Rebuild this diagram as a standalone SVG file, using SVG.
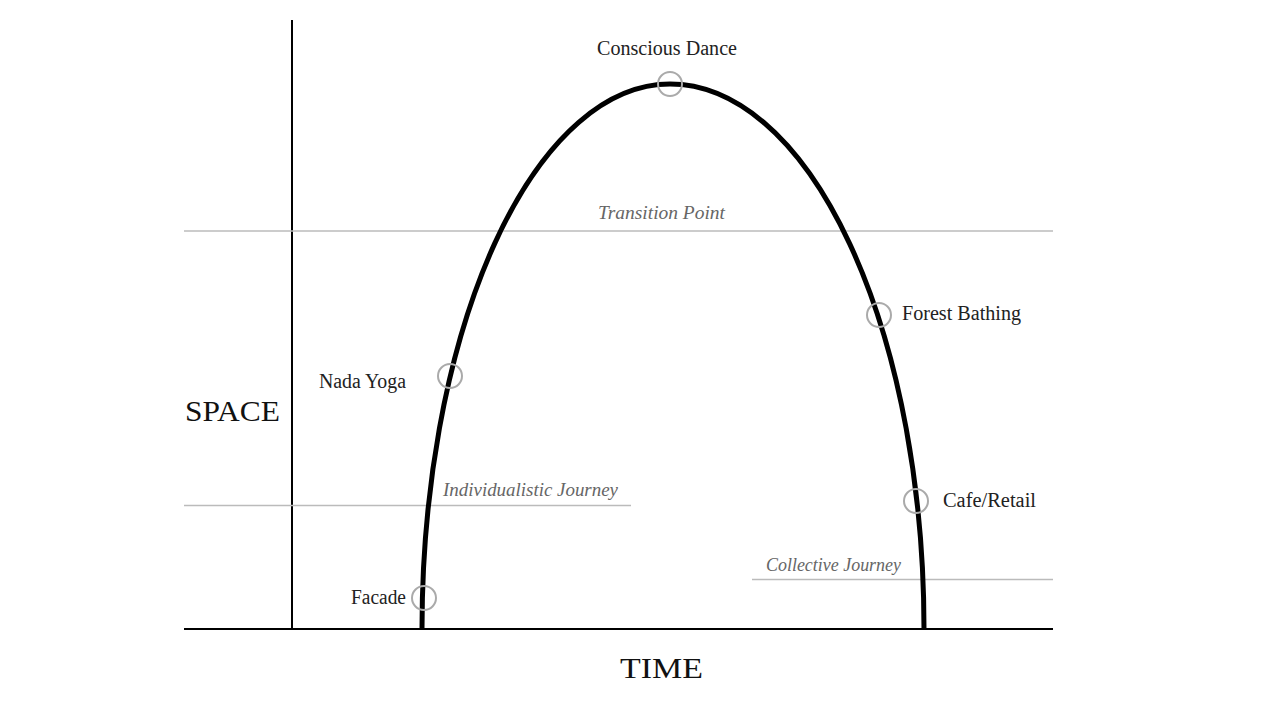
<svg xmlns="http://www.w3.org/2000/svg" width="1280" height="720" viewBox="0 0 1280 720">
<style>
.axis{stroke:#000;stroke-width:2;fill:none}
.guide{stroke:#bbb;stroke-width:1.3;fill:none}
.curve{stroke:#000;stroke-width:5;fill:none}
.mark{stroke:#aaa;stroke-width:2;fill:none}
.lbl{font-family:"Liberation Serif",serif;font-size:20px;fill:#222}
.it{font-family:"Liberation Serif",serif;font-size:19px;font-style:italic;fill:#666}
.ax{font-family:"Liberation Serif",serif;font-size:30px;fill:#111}
</style>
<rect width="1280" height="720" fill="#fff"/>
<g id="connectors">
<line class="axis" x1="292" y1="20" x2="292" y2="629"/>
<line class="axis" x1="184" y1="629" x2="1053" y2="629"/>
<line class="guide" x1="184" y1="231" x2="1053" y2="231"/>
<line class="guide" x1="184" y1="505.5" x2="631" y2="505.5"/>
<line class="guide" x1="752" y1="579.5" x2="1053" y2="579.5"/>
<path class="curve" d="M 422 629 A 248 545 0 0 1 670 84 A 254 545 0 0 1 924 629"/>
</g>
<g id="axis-space"><text class="ax" x="185" y="421" textLength="95" lengthAdjust="spacingAndGlyphs">SPACE</text></g>
<g id="axis-time"><text class="ax" x="620" y="678" textLength="83" lengthAdjust="spacingAndGlyphs">TIME</text></g>
<g id="transition-point"><text class="it" x="598" y="219" textLength="127" lengthAdjust="spacingAndGlyphs">Transition Point</text></g>
<g id="individualistic-journey"><text class="it" x="443" y="496" textLength="175" lengthAdjust="spacingAndGlyphs">Individualistic Journey</text></g>
<g id="collective-journey"><text class="it" x="766" y="571" textLength="135" lengthAdjust="spacingAndGlyphs">Collective Journey</text></g>
<g id="conscious-dance"><circle class="mark" cx="670" cy="84" r="12"/><text class="lbl" x="597" y="55" textLength="140" lengthAdjust="spacingAndGlyphs">Conscious Dance</text></g>
<g id="nada-yoga"><circle class="mark" cx="450" cy="376" r="12"/><text class="lbl" x="319" y="388" textLength="87" lengthAdjust="spacingAndGlyphs">Nada Yoga</text></g>
<g id="facade"><circle class="mark" cx="424" cy="598" r="12"/><text class="lbl" x="351" y="604" textLength="55" lengthAdjust="spacingAndGlyphs">Facade</text></g>
<g id="forest-bathing"><circle class="mark" cx="879" cy="315" r="12"/><text class="lbl" x="902" y="320" textLength="119" lengthAdjust="spacingAndGlyphs">Forest Bathing</text></g>
<g id="cafe-retail"><circle class="mark" cx="916" cy="501" r="12"/><text class="lbl" x="943" y="507" textLength="93" lengthAdjust="spacingAndGlyphs">Cafe/Retail</text></g>
</svg>
